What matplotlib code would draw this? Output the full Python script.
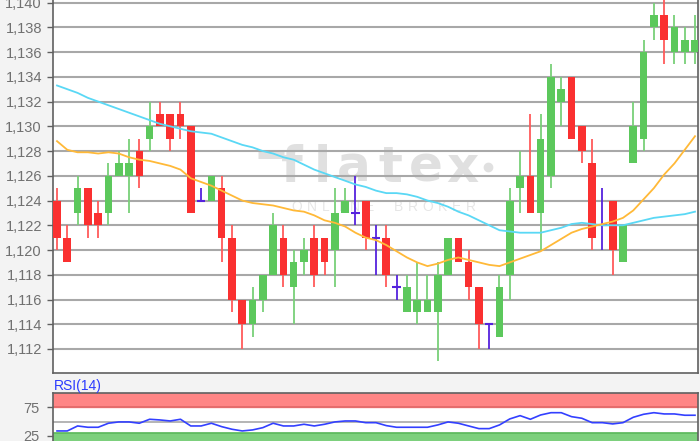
import matplotlib
matplotlib.use('Agg')
import matplotlib.pyplot as plt
import numpy as np

# ---------------- data ----------------
opens = [1.124, 1.121, 1.123, 1.125, 1.123, 1.123, 1.126, 1.126, 1.128, 1.129,
         1.131, 1.131, 1.131, 1.130, 1.124, 1.124, 1.125, 1.121, 1.116, 1.114,
         1.116, 1.118, 1.121, 1.117, 1.119, 1.121, 1.121, 1.120, 1.123, 1.123,
         1.124, 1.121, 1.121, 1.117, 1.115, 1.115, 1.115, 1.115, 1.118, 1.121,
         1.119, 1.117, 1.114, 1.113, 1.118, 1.125, 1.126, 1.123, 1.126, 1.132,
         1.134, 1.130, 1.127, 1.122, 1.124, 1.119, 1.127, 1.129, 1.138, 1.139,
         1.136, 1.136, 1.136]
highs = [1.125, 1.122, 1.126, 1.125, 1.124, 1.127, 1.128, 1.129, 1.129, 1.132,
         1.132, 1.131, 1.132, 1.130, 1.125, 1.126, 1.126, 1.122, 1.116, 1.117,
         1.118, 1.123, 1.122, 1.120, 1.121, 1.122, 1.121, 1.125, 1.125, 1.126,
         1.124, 1.122, 1.122, 1.118, 1.118, 1.119, 1.118, 1.119, 1.121, 1.121,
         1.120, 1.117, 1.114, 1.118, 1.125, 1.128, 1.131, 1.131, 1.135, 1.134,
         1.134, 1.130, 1.129, 1.125, 1.124, 1.122, 1.132, 1.137, 1.140, 1.141,
         1.139, 1.138, 1.139]
lows = [1.120, 1.119, 1.122, 1.121, 1.121, 1.122, 1.126, 1.123, 1.125, 1.128,
        1.130, 1.128, 1.129, 1.123, 1.124, 1.124, 1.119, 1.115, 1.112, 1.113,
        1.115, 1.118, 1.117, 1.114, 1.118, 1.117, 1.118, 1.117, 1.123, 1.122,
        1.120, 1.118, 1.117, 1.116, 1.115, 1.114, 1.115, 1.111, 1.118, 1.119,
        1.116, 1.112, 1.112, 1.113, 1.116, 1.123, 1.123, 1.120, 1.125, 1.130,
        1.129, 1.127, 1.120, 1.120, 1.118, 1.119, 1.127, 1.128, 1.137, 1.135,
        1.135, 1.135, 1.135]
closes = [1.121, 1.119, 1.125, 1.122, 1.122, 1.126, 1.127, 1.127, 1.126, 1.130,
          1.130, 1.129, 1.130, 1.123, 1.124, 1.126, 1.121, 1.116, 1.114, 1.116,
          1.118, 1.122, 1.118, 1.119, 1.120, 1.118, 1.119, 1.123, 1.124, 1.123,
          1.121, 1.121, 1.118, 1.117, 1.117, 1.116, 1.116, 1.118, 1.121, 1.119,
          1.117, 1.114, 1.114, 1.117, 1.124, 1.126, 1.123, 1.129, 1.134, 1.133,
          1.129, 1.128, 1.121, 1.122, 1.120, 1.122, 1.130, 1.136, 1.139, 1.137,
          1.138, 1.137, 1.137]
ma_cyan = [1.1333, 1.1330, 1.1327, 1.1323, 1.1320, 1.1317, 1.1314, 1.1311, 1.1308, 1.1305,
           1.1302, 1.1300, 1.1298, 1.1296, 1.1295, 1.1294, 1.1291, 1.1288, 1.1285, 1.1283,
           1.1280, 1.1278, 1.1275, 1.1273, 1.1269, 1.1265, 1.1262, 1.1259, 1.1256, 1.1253,
           1.1251, 1.1248, 1.1246, 1.1246, 1.1245, 1.1243, 1.1240, 1.1238, 1.1235, 1.1231,
           1.1228, 1.1224, 1.1220, 1.1216, 1.1215, 1.1214, 1.1214, 1.1214, 1.1216, 1.1218,
           1.1221, 1.1222, 1.1221, 1.1220, 1.1220, 1.1220, 1.1222, 1.1224, 1.1226, 1.1227,
           1.1228, 1.1229, 1.1231]
ma_orange = [1.1288, 1.1281, 1.1279, 1.1279, 1.1278, 1.1279, 1.1278, 1.1275, 1.1273, 1.1272,
             1.1270, 1.1268, 1.1265, 1.1258, 1.1255, 1.1252, 1.1248, 1.1244, 1.1240, 1.1238,
             1.1237, 1.1236, 1.1234, 1.1232, 1.1231, 1.1228, 1.1224, 1.1222, 1.1219, 1.1214,
             1.1210, 1.1208, 1.1204, 1.1199, 1.1194, 1.1190, 1.1187, 1.1189, 1.1192, 1.1194,
             1.1192, 1.1190, 1.1188, 1.1187, 1.1190, 1.1193, 1.1196, 1.1199, 1.1204, 1.1209,
             1.1214, 1.1217, 1.1219, 1.1221, 1.1223, 1.1226, 1.1232, 1.1241, 1.1250, 1.1261,
             1.1270, 1.1281, 1.1292]
rsi = [33.6, 33.6, 42.4, 40.1, 40.1, 47.2, 49.5, 49.5, 47.2, 54.2,
       53.0, 51.2, 54.2, 42.4, 42.4, 47.2, 41.2, 36.6, 33.6, 35.4,
       39.4, 47.2, 42.4, 42.4, 45.4, 42.4, 45.4, 49.5, 51.2, 51.2,
       48.2, 48.2, 43.0, 40.1, 40.1, 40.1, 40.1, 44.2, 49.5, 47.2,
       42.4, 37.7, 37.7, 44.2, 54.8, 60.6, 54.2, 61.8, 65.8, 65.8,
       58.8, 56.0, 48.2, 48.2, 46.0, 48.2, 57.7, 63.0, 65.8, 63.6,
       63.6, 61.3, 61.3]
price_ticks = [1.112, 1.114, 1.116, 1.118, 1.120, 1.122, 1.124, 1.126,
               1.128, 1.130, 1.132, 1.134, 1.136, 1.138, 1.140]
price_labels = ['1,112', '1,114', '1,116', '1,118', '1,120', '1,122', '1,124', '1,126',
                '1,128', '1,130', '1,132', '1,134', '1,136', '1,138', '1,140']
rsi_ticks = [25, 75]
rsi_labels = ['25', '75']
rsi_title = 'RSI(14)'
overbought = (75, 100)
oversold = (0, 30)
watermark_letters = ['f', 'l', 'a', 't', 'e', 'x']
watermark_sub = 'ONLINE BROKER'

# ---------------- style ----------------
plt.rcParams['font.family'] = ['Liberation Sans', 'DejaVu Sans']
W, H = 700, 441
BG = '#f3f3f3'
GREEN = '#5cc85c'
RED = '#fa3030'
GREEN_W = '#78d078'
RED_W = '#ff5a5a'
DOJI = '#5522dd'
GRID = '#a8a8a8'
SPINE = '#606060'
LABEL = '#707070'
WM = '#e0e0e0'

def rect(x0, y0, x1, y1):
    return [x0 / W, 1 - y1 / H, (x1 - x0) / W, (y1 - y0) / H]

fig = plt.figure(figsize=(7, 4.41), dpi=100, facecolor=BG)

# ---------------- main price panel ----------------
ax = fig.add_axes(rect(53, 0, 698, 373))
ax.set_facecolor('white')
n = len(opens)
idx = np.arange(n)
o = np.array(opens); c = np.array(closes); h = np.array(highs); l = np.array(lows)
up = c > o
dn = c < o
dj = c == o

def px2x(px):
    return (px - 57) / 10.29

for t in price_ticks:
    ax.axhline(t, color=GRID, lw=1.5, zorder=1)

# watermark
wm_px = [292, 322, 354, 390, 426, 462]
for ch, xx in zip(watermark_letters, wm_px):
    ax.text(px2x(xx), 1.1255, ch, fontsize=36, fontweight='bold',
            color=WM, ha='center', va='baseline', zorder=0.5,
            family='DejaVu Sans')
ax.plot([px2x(258), px2x(284)], [1.1277, 1.1277], color=WM,
        lw=5, zorder=0.5, solid_capstyle='butt')
ax.plot([px2x(488)], [1.1267], 'o', color=WM, ms=6, zorder=0.5)
for k, ch in enumerate(watermark_sub):
    ax.text(px2x(297 + 14.5 * k), 1.1235, ch, fontsize=10,
            color='#e6e6e6', ha='center', va='center', zorder=0.5)

ax.vlines(idx[up], l[up], h[up], color=GREEN_W, lw=1.3, zorder=3)
ax.vlines(idx[dn], l[dn], h[dn], color=RED_W, lw=1.3, zorder=3)
ax.vlines(idx[dj], l[dj], h[dj], color=DOJI, lw=1.3, zorder=3)
ax.bar(idx[up], (c - o)[up], bottom=o[up], width=0.74, color=GREEN, zorder=4)
ax.bar(idx[dn], (o - c)[dn], bottom=c[dn], width=0.74, color=RED, zorder=4)
ax.hlines(o[dj], idx[dj] - 0.4, idx[dj] + 0.4, color=DOJI, lw=1.5, zorder=4)

ax.plot(idx, ma_cyan, color='#5ad8f5', lw=1.3, zorder=5)
ax.plot(idx, ma_orange, color='#ffb938', lw=1.3, zorder=5)

ax.set_xlim(-0.39, 62.29)
ax.set_ylim(1.11006, 1.14021)
ax.set_yticks(price_ticks)
ax.set_yticklabels(price_labels)
ax.set_xticks([])
ax.tick_params(axis='y', direction='out', length=4, width=1, color=SPINE,
               labelcolor=LABEL, labelsize=10.5, pad=4)
for s in ['left', 'bottom', 'right']:
    ax.spines[s].set_color(SPINE)
    ax.spines[s].set_linewidth(1.2)
ax.spines['top'].set_visible(False)

# ---------------- RSI panel ----------------
ar = fig.add_axes(rect(53, 393.3, 698, 450))
ar.set_facecolor('white')
ar.axhspan(overbought[0], overbought[1], color='#ff8585', zorder=1)
ar.axhline(overbought[0], color='#e06868', lw=1.2, zorder=1.5)
ar.axhspan(oversold[0], oversold[1], color='#7dd07d', zorder=1)
ar.axhline(oversold[1], color='#5cb85c', lw=1.2, zorder=1.5)
ar.axhline(50, color=GRID, lw=1.2, zorder=1.2)
ar.plot(idx, rsi, color='#3340ff', lw=1.2, zorder=3)
ar.set_xlim(-0.39, 62.29)
ar.set_ylim(0, 100)
ar.set_yticks(rsi_ticks)
ar.set_yticklabels(rsi_labels)
ar.set_xticks([])
ar.tick_params(axis='y', direction='out', length=4, width=1, color=SPINE,
               labelcolor=LABEL, labelsize=10.5, pad=6)
for s in ar.spines.values():
    s.set_color(SPINE)
    s.set_linewidth(1.2)
fig.text(54 / W, 1 - 386 / H, rsi_title, color='#2a3aff', fontsize=10,
         ha='left', va='center')

fig.savefig('out.png', dpi=100, facecolor=BG)
